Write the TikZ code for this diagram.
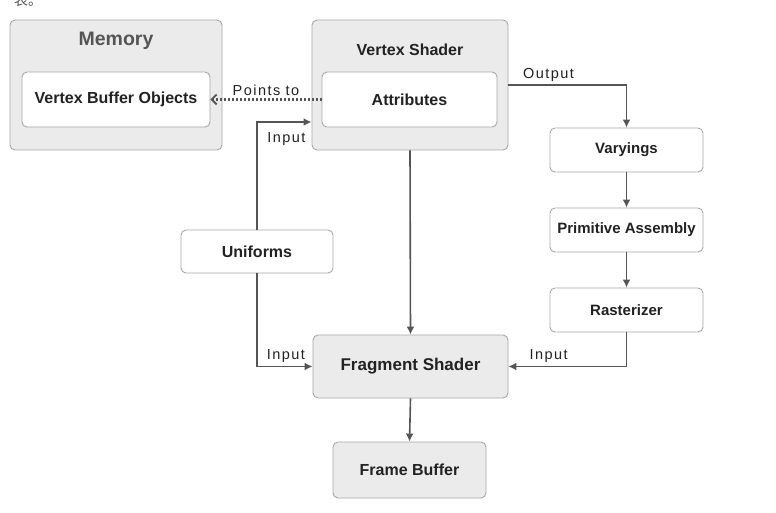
\documentclass[tikz,border=0pt]{standalone}
\usepackage{fontspec}
\setmainfont{Liberation Sans}
\newfontfamily\lblfont[LetterSpace=10]{Liberation Sans}
\newfontfamily\cjkfont{Noto Sans CJK SC}
\usetikzlibrary{arrows.meta,positioning}

\definecolor{boxgray}{HTML}{EBEBEB}
\definecolor{edgegray}{HTML}{A8A8A8}
\definecolor{linegray}{HTML}{555555}
\definecolor{txtgray}{HTML}{222222}
\definecolor{titlegray}{HTML}{555555}

\tikzset{
  box/.style={draw=edgegray, rounded corners=5pt, line width=0.9pt, inner sep=0pt,
    text=txtgray, font=\bfseries\fontsize{16}{19}\selectfont},
  graybox/.style={box, fill=boxgray},
  whitebox/.style={box, fill=white},
  flow/.style={draw=linegray, line width=1.6pt, -{Latex[length=8pt,width=8pt]}},
  pointer/.style={draw=linegray, line width=2.4pt, dash pattern=on 2pt off 2pt,
    -{Straight Barb[length=5pt,width=10pt,line width=1.8pt]}},
  lbl/.style={font=\lblfont\fontsize{14.5}{17}\selectfont, text=txtgray, inner sep=3pt},
}

\begin{document}
\begin{tikzpicture}[x=1pt,y=-1pt]
  \fill[white] (0,0) rectangle (776,513);
  \useasboundingbox (0,0) rectangle (776,513);
  \node[font=\cjkfont\fontsize{14}{14}\selectfont, text=titlegray] (frag) at (28,0) {表。};

  % memory and vertex shader
  \node[graybox, minimum width=212pt, minimum height=130pt] (mem) at (116,85) {};
  \node[font=\bfseries\fontsize{19.5}{23}\selectfont, text=titlegray] (memtitle) at (116,41) {Memory};
  \node[whitebox, minimum width=188pt, minimum height=55pt] (vbo) at (116,99.5) {Vertex Buffer Objects};

  \node[graybox, minimum width=196pt, minimum height=130pt] (vshader) at (410,85) {};
  \node[text=txtgray, font=\bfseries\fontsize{16}{19}\selectfont] (vstitle) at (410,50) {Vertex Shader};
  \node[whitebox, minimum width=175pt, minimum height=55pt] (attrib) at (409.5,99.5) {Attributes};

  % right column
  \foreach \n/\y/\t in {varyings/150/Varyings, primasm/230/Primitive Assembly, raster/310/Rasterizer} {
    \node[whitebox, font=\bfseries\fontsize{15}{18}\selectfont, minimum width=153pt, minimum height=44pt] (\n) at (626.5,\y) {\t};
  }

  \node[whitebox, minimum width=152pt, minimum height=43pt] (uniforms) at (257,251.5) {Uniforms};
  \node[graybox, font=\bfseries\fontsize{17}{20}\selectfont, minimum width=195pt, minimum height=63pt] (fshader) at (410.5,366.5) {Fragment Shader};
  \node[graybox, minimum width=153pt, minimum height=56pt] (fbuf) at (409.5,470) {Frame Buffer};

  % connectors
  \draw[pointer] (attrib.west) -- (vbo.east) node[lbl, midway, above] {Points to};
  \draw[flow] (vshader.east) -| (varyings.north) node[lbl, pos=0.17, above] {Output};
  \foreach \a/\b in {varyings/primasm, primasm/raster} {
    \draw[flow] (\a.south) -- (\b.north);
  }
  \draw[flow] (raster.south) |- (fshader.east) node[lbl, pos=0.83, above] {Input};
  \draw[flow] (uniforms.north) |- ([yshift=-37pt]vshader.west) node[lbl, pos=0.77, below=7pt] {Input};
  \draw[flow] (uniforms.south) |- (fshader.west) node[lbl, pos=0.76, above] {Input};
  \draw[flow] (vshader.south) -- (fshader.north);
  \draw[flow] (fshader.south) -- (fbuf.north);
\end{tikzpicture}
\end{document}
